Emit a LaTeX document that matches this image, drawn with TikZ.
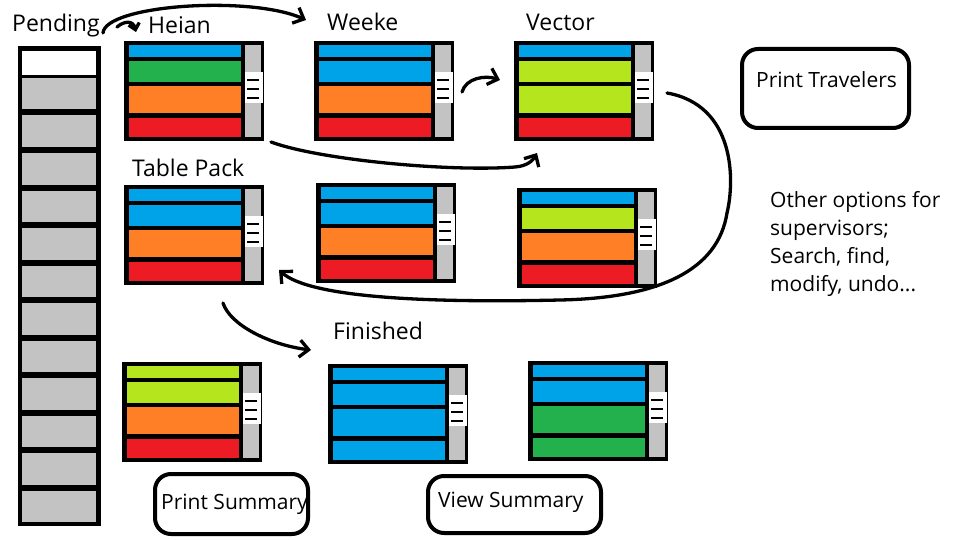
\documentclass[tikz,border=0pt]{standalone}
\usepackage{fontspec}
\setmainfont{Open Sans}
\usetikzlibrary{arrows.meta}
\definecolor{pblue}{HTML}{00A2E8}
\definecolor{pgreen}{HTML}{22B14C}
\definecolor{porange}{HTML}{FF7F27}
\definecolor{pred}{HTML}{ED1C24}
\definecolor{plime}{HTML}{B5E61D}
\definecolor{pgray}{HTML}{C3C3C3}
\tikzset{
  conn/.style={line width=3.3pt, line cap=round, line join=round,
    -{Straight Barb[length=9pt,width=17pt]}},
  shortconn/.style={line width=3.3pt, line cap=round, line join=round,
    -{Straight Barb[length=6pt,width=11pt]}},
  lbl/.style={font=\fontsize{23}{27}\selectfont, anchor=base west, inner sep=0pt},
  txt/.style={font=\fontsize{21}{28}\selectfont, anchor=base west, inner sep=0pt},
  rbox/.style={draw, line width=4pt, rounded corners=16pt, inner sep=0pt},
  frame/.style={inner sep=0pt, minimum width=140pt, minimum height=100pt},
}
\newcommand\drawpanel[7]{%
  \begin{scope}[shift={(#2,#3)}]
    \fill[black] (0,0) rectangle (140,100);
    \fill[#4] (5,4) rectangle (117,16);
    \fill[#5] (5,20) rectangle (117,41);
    \fill[#6] (5,45) rectangle (117,72);
    \fill[#7] (5,77) rectangle (117,96);
    \fill[pgray] (121,4) rectangle (137,31);
    \fill[white] (121,31) rectangle (139,62);
    \fill[pgray] (121,62) rectangle (137,96);
    \draw[line width=2pt] (123,39) -- (135,39) (123,48) -- (135,48) (123,57) -- (135,57);
    \node[frame] (#1) at (70,50) {};
  \end{scope}}
\begin{document}
\begin{tikzpicture}[x=1pt,y=-1pt]
\fill[white] (0,0) rectangle (960,540);
\useasboundingbox (0,0) rectangle (960,540);

% Pending column
\fill[black] (18,46) rectangle (101,526);
\fill[white] (22,51) rectangle (96,75);
\foreach \k in {0,...,11}{
  \fill[pgray] (22,{78+37.5*\k}) rectangle (96,{109.5+37.5*\k});
}
\node[inner sep=0pt, minimum width=83pt, minimum height=480pt] (pending) at (59.5,286) {};

% panels
\drawpanel{heian}{124}{41}{pblue}{pgreen}{porange}{pred}
\drawpanel{weeke}{314}{41}{pblue}{pblue}{porange}{pred}
\drawpanel{vector}{514}{41}{pblue}{plime}{plime}{pred}
\drawpanel{tablepack}{124}{185}{pblue}{pblue}{porange}{pred}
\drawpanel{midtwo}{316}{183}{pblue}{pblue}{porange}{pred}
\drawpanel{righttwo}{517}{188}{pblue}{plime}{porange}{pred}
\drawpanel{leftthree}{122}{362}{plime}{plime}{porange}{pred}
\drawpanel{finished}{328}{364}{pblue}{pblue}{pblue}{pblue}
\drawpanel{rightthree}{528}{361}{pblue}{pblue}{pgreen}{pgreen}

% labels
\node[lbl] (lpending) at (12,32) {Pending};
\node[lbl] (lheian) at (148,34) {Heian};
\node[lbl] (lweeke) at (327,31) {Weeke};
\node[lbl] (lvector) at (526,31) {Vector};
\node[lbl] (ltable) at (132,176) {Table Pack};
\node[lbl] (lfinished) at (333,339) {Finished};

% boxes
\node[rbox, minimum width=167pt, minimum height=79pt] (travelers) at (825.5,88.5) {};
\node[txt] (ltravelers) at (756,88) {Print Travelers};
\node[rbox, minimum width=153pt, minimum height=60pt] (psum) at (231.5,504) {};
\node[txt] (lpsum) at (161,509) {Print Summary};
\node[rbox, minimum width=173pt, minimum height=57pt] (vsum) at (514.5,504.5) {};
\node[txt] (lvsum) at (438,507) {View Summary};

% other options
\node[txt] (opt1) at (770,207) {Other options for};
\node[txt] (opt2) at (770,235) {supervisors;};
\node[txt] (opt3) at (770,263) {Search, find,};
\node[txt] (opt4) at (770,291) {modify, undo...};

% connector end points
\coordinate (a1s) at (103,33);
\coordinate (a1e) at (306,20);
\coordinate (a2s) at (117,27);
\coordinate (a2e) at (136,32);
\coordinate (a3s) at (462,92);
\coordinate (a3e) at (500,80);
\coordinate (a4s) at (271,142);
\coordinate (a4m) at (515,167);
\coordinate (a4e) at (537,153);
\coordinate (a5s) at (667,93);
\coordinate (a5m) at (727,213);
\coordinate (a5n) at (560,300);
\coordinate (a5e) at (279,270);
\coordinate (a6s) at (223,303);
\coordinate (a6e) at (311,350);

% connectors
\draw[conn] (a1s) .. controls (105,5) and (250,-5) .. (a1e);
\draw[shortconn] (a2s) .. controls (124,21) and (133,20) .. (a2e);
\draw[conn] (a3s) .. controls (466,78) and (485,75) .. (a3e);
\draw[conn] (a4s) .. controls (320,160) and (450,172) .. (a4m)
               .. controls (528,166) and (533,160) .. (a4e);
\draw[conn] (a5s) .. controls (735,105) and (735,180) .. (a5m)
               .. controls (718,270) and (660,298) .. (a5n)
               .. controls (430,303) and (310,298) .. (a5e);
\draw[conn] (a6s) .. controls (230,325) and (270,345) .. (a6e);
\end{tikzpicture}
\end{document}
